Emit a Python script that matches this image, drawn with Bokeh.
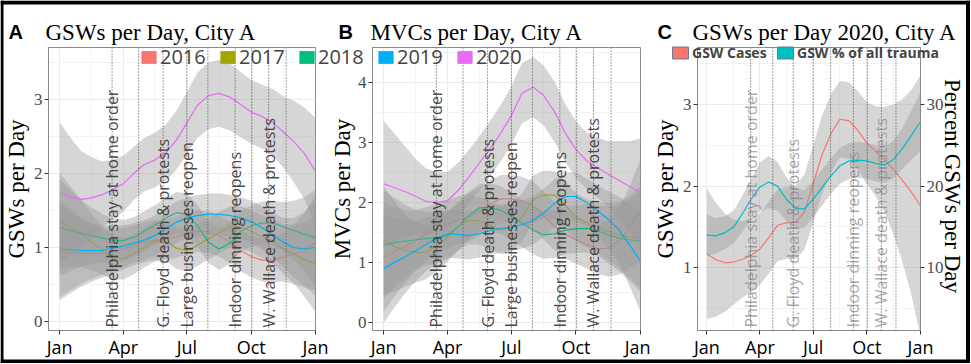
import math
from bokeh.plotting import figure
from bokeh.models import Range1d, LinearAxis, FixedTicker, Span, Label, Legend, LegendItem
from bokeh.layouts import row, column
from bokeh.core.properties import value
from bokeh.embed import file_html
from bokeh.resources import INLINE

# ---------------- data ----------------
days = [0, 15, 31, 46, 60, 75, 91, 106, 121, 136, 152, 167, 182, 197, 213, 228,
        244, 259, 274, 289, 305, 320, 335, 350, 366]

month_ticks = [0, 91, 182, 274, 366]
month_labels = ["Jan", "Apr", "Jul", "Oct", "Jan"]
month_minor = [45, 136, 228, 320]

years = ["2016", "2017", "2018", "2019", "2020"]
year_colors = ["#F8766D", "#A3A500", "#00BF7D", "#00B0F6", "#E76BF3"]

# Panel A: GSWs per day
gsw_2016 = [0.94, 0.93, 0.92, 0.92, 0.92, 0.94, 0.98, 1.03, 1.07, 1.10, 1.11, 1.14, 1.19, 1.22, 1.21, 1.16, 1.07, 0.96, 0.88, 0.83, 0.83, 0.87, 0.91, 0.96, 1.07]
gsw_2017 = [1.36, 1.28, 1.19, 1.07, 0.97, 0.87, 0.85, 0.91, 1.00, 1.08, 1.09, 0.99, 0.96, 1.03, 1.12, 1.20, 1.28, 1.28, 1.22, 1.15, 1.08, 0.98, 0.91, 0.84, 0.78]
gsw_2018 = [1.27, 1.23, 1.19, 1.16, 1.13, 1.10, 1.09, 1.14, 1.22, 1.30, 1.40, 1.47, 1.45, 1.30, 1.07, 0.98, 1.06, 1.22, 1.29, 1.33, 1.33, 1.28, 1.23, 1.18, 1.13]
gsw_2019 = [0.98, 0.97, 0.96, 0.96, 0.96, 0.99, 1.02, 1.06, 1.10, 1.16, 1.26, 1.34, 1.40, 1.43, 1.45, 1.45, 1.43, 1.40, 1.35, 1.27, 1.17, 1.07, 1.00, 0.98, 1.00]
gsw_2020 = [1.74, 1.69, 1.65, 1.67, 1.71, 1.78, 1.86, 2.00, 2.12, 2.18, 2.28, 2.45, 2.68, 2.92, 3.05, 3.08, 3.03, 2.93, 2.83, 2.77, 2.69, 2.56, 2.43, 2.27, 2.03]
gsw_ci_prior = [0.65, 0.55, 0.45, 0.38, 0.33, 0.30, 0.28, 0.27, 0.27, 0.27, 0.27, 0.28, 0.28, 0.28, 0.28, 0.28, 0.28, 0.28, 0.28, 0.29, 0.30, 0.33, 0.40, 0.50, 0.65]
gsw_ci_2020 = [0.95, 0.80, 0.65, 0.55, 0.45, 0.40, 0.38, 0.36, 0.36, 0.37, 0.38, 0.40, 0.42, 0.44, 0.45, 0.45, 0.45, 0.44, 0.43, 0.43, 0.45, 0.48, 0.55, 0.62, 0.72]

# Panel B: MVCs per day
mvc_2016 = [1.09, 1.18, 1.27, 1.37, 1.47, 1.56, 1.64, 1.70, 1.75, 1.85, 1.98, 2.06, 2.06, 2.03, 1.95, 1.78, 1.60, 1.47, 1.38, 1.30, 1.23, 1.24, 1.35, 1.58, 1.87]
mvc_2017 = [1.37, 1.27, 1.20, 1.17, 1.17, 1.27, 1.42, 1.60, 1.70, 1.70, 1.62, 1.54, 1.58, 1.75, 2.05, 2.13, 2.12, 1.95, 1.76, 1.66, 1.58, 1.52, 1.46, 1.43, 1.42]
mvc_2018 = [1.30, 1.33, 1.36, 1.38, 1.40, 1.42, 1.45, 1.60, 1.78, 1.91, 1.92, 1.87, 1.77, 1.66, 1.54, 1.46, 1.48, 1.54, 1.56, 1.57, 1.53, 1.46, 1.41, 1.38, 1.36]
mvc_2019 = [0.90, 1.00, 1.10, 1.20, 1.30, 1.40, 1.48, 1.47, 1.45, 1.48, 1.53, 1.57, 1.59, 1.63, 1.70, 1.83, 1.99, 2.10, 2.10, 2.00, 1.86, 1.72, 1.55, 1.30, 1.03]
mvc_2020 = [2.31, 2.25, 2.18, 2.10, 2.02, 2.00, 2.03, 2.20, 2.42, 2.65, 2.90, 3.16, 3.45, 3.82, 3.92, 3.78, 3.50, 3.15, 2.88, 2.70, 2.58, 2.47, 2.37, 2.27, 2.17]
mvc_ci_prior = [0.90, 0.75, 0.60, 0.50, 0.45, 0.42, 0.40, 0.40, 0.40, 0.40, 0.40, 0.40, 0.40, 0.40, 0.40, 0.40, 0.40, 0.40, 0.40, 0.40, 0.42, 0.47, 0.55, 0.68, 0.85]
mvc_ci_2020 = [1.05, 0.90, 0.75, 0.62, 0.55, 0.50, 0.48, 0.46, 0.45, 0.45, 0.46, 0.47, 0.48, 0.50, 0.50, 0.50, 0.50, 0.48, 0.47, 0.47, 0.50, 0.55, 0.65, 0.75, 0.90]

# Panel C: GSWs 2020 (cases, left axis) and GSW % of all trauma (right axis)
c_cases = [1.17, 1.10, 1.06, 1.07, 1.10, 1.15, 1.23, 1.37, 1.52, 1.55, 1.56, 1.68, 2.02, 2.38, 2.65, 2.82, 2.80, 2.68, 2.53, 2.43, 2.32, 2.20, 2.07, 1.93, 1.76]
c_cases_ci = [0.80, 0.70, 0.60, 0.52, 0.47, 0.45, 0.44, 0.44, 0.44, 0.44, 0.45, 0.46, 0.47, 0.48, 0.48, 0.47, 0.47, 0.48, 0.50, 0.55, 0.65, 0.80, 1.00, 1.25, 1.60]
c_pct = [14.0, 13.9, 14.3, 15.0, 16.5, 18.3, 19.9, 20.5, 20.0, 18.4, 17.3, 17.2, 18.4, 19.8, 21.3, 22.5, 23.1, 23.2, 23.1, 22.8, 22.6, 23.3, 24.6, 26.2, 27.9]
c_pct_ci = [2.5, 2.2, 2.0, 2.0, 2.2, 2.5, 3.0, 3.2, 3.0, 2.7, 2.5, 2.3, 2.2, 2.2, 2.2, 2.2, 2.2, 2.2, 2.2, 2.2, 2.2, 2.3, 2.5, 3.0, 3.6]
c_names = ["GSW Cases", "GSW % of all trauma"]
c_colors = ["#F8766D", "#00BFC4"]

event_days = [75, 148, 182, 251, 299]
event_labels = ["Philadelphia stay at home order", "G. Floyd death & protests",
                "Large businesses reopen", "Indoor dinning reopens",
                "W. Wallace death & protests"]
other_days = [113, 212, 275, 324]

# ---------------- layout constants ----------------
W = 970
H = 363
TOP = 47
BOTTOM = 33
FH = H - TOP - BOTTOM
NAN = float("nan")


def base_fig(width, yr, left, right, yticks, yminor):
    p = figure(width=width, height=H, x_range=Range1d(-16, 366), y_range=Range1d(*yr),
               output_backend="svg", toolbar_location=None,
               min_border_left=left, min_border_right=right,
               min_border_top=TOP, min_border_bottom=BOTTOM)
    p.xaxis.ticker = FixedTicker(ticks=month_ticks, minor_ticks=month_minor)
    p.xaxis.major_label_overrides = {t: l for t, l in zip(month_ticks, month_labels)}
    p.yaxis.ticker = FixedTicker(ticks=yticks, minor_ticks=yminor)
    p.xaxis.major_label_text_font = "Open Sans"
    p.xaxis.major_label_text_font_size = "18px"
    p.xaxis.major_label_text_color = "black"
    p.xaxis.major_label_standoff = 0
    p.yaxis.major_label_text_font = "Liberation Serif"
    p.yaxis.major_label_text_font_size = "17px"
    p.yaxis.major_label_text_color = "#4D4D4D"
    p.yaxis.major_label_standoff = 2
    p.axis.major_tick_out = 4
    p.axis.major_tick_in = 0
    p.axis.minor_tick_line_color = None
    p.axis.axis_line_color = "#8A8A8A"
    p.axis.major_tick_line_color = "#333333"
    p.outline_line_color = "#8A8A8A"
    p.grid.grid_line_color = "#EBEBEB"
    p.grid.minor_grid_line_color = "#F4F4F4"
    p.background_fill_color = "white"
    return p


def add_smooth(p, vals, ci, color, range_name="default"):
    lo = [v - c for v, c in zip(vals, ci)]
    hi = [v + c for v, c in zip(vals, ci)]
    p.varea(x=days, y1=lo, y2=hi, fill_color="#999999", fill_alpha=0.4,
            y_range_name=range_name)
    p.line(days, vals, line_color=color, line_width=1.2, y_range_name=range_name)


def add_events(p, idx, color, alpha):
    for d in event_days + other_days:
        p.add_layout(Span(location=d, dimension="height", line_color="#444444",
                          line_dash="1 2", line_width=1))
    ys = p.y_range.start + 3 * (p.y_range.end - p.y_range.start) / FH
    p.text(x=[event_days[i] for i in idx], y=[ys] * len(idx),
           text=[event_labels[i] for i in idx], angle=math.pi / 2,
           text_align="left", text_baseline="middle", text_font=value("Open Sans"),
           text_font_size="16px", text_color=color, text_alpha=alpha)


# ---------------- Panel A ----------------
pA = base_fig(333, (-0.12, 3.70), 48, 18, [0, 1, 2, 3], [0.5, 1.5, 2.5, 3.5])
for vals, col in zip([gsw_2016, gsw_2017, gsw_2018, gsw_2019], year_colors[:4]):
    add_smooth(pA, vals, gsw_ci_prior, col)
add_smooth(pA, gsw_2020, gsw_ci_2020, year_colors[4])
add_events(pA, [0, 1, 2, 3, 4], "#333333", 0.9)

# ---------------- Panel B ----------------
pB = base_fig(317, (-0.13, 4.58), 39, 10, [0, 1, 2, 3, 4], [0.5, 1.5, 2.5, 3.5, 4.5])
for vals, col in zip([mvc_2016, mvc_2017, mvc_2018, mvc_2019], year_colors[:4]):
    add_smooth(pB, vals, mvc_ci_prior, col)
add_smooth(pB, mvc_2020, mvc_ci_2020, year_colors[4])
add_events(pB, [0, 1, 2, 3, 4], "#333333", 0.9)

# ---------------- Panel C ----------------
pC = base_fig(320, (0.23, 3.70), 47, 50, [1, 2, 3], [0.5, 1.5, 2.5, 3.5])
pC.extra_y_ranges = {"pct": Range1d(2.3, 37.0)}
rax = LinearAxis(y_range_name="pct", ticker=FixedTicker(ticks=[10, 20, 30]))
rax.major_label_text_font = "Liberation Serif"
rax.major_label_text_font_size = "17px"
rax.major_label_text_color = "#4D4D4D"
rax.major_label_standoff = 2
rax.major_tick_out = 4
rax.major_tick_in = 0
rax.minor_tick_line_color = None
rax.axis_line_color = "#8A8A8A"
rax.major_tick_line_color = "#333333"
pC.add_layout(rax, "right")
add_smooth(pC, c_cases, c_cases_ci, c_colors[0])
add_smooth(pC, c_pct, c_pct_ci, c_colors[1], range_name="pct")
add_events(pC, [0, 1, 3, 4], "#8C8C8C", 0.75)

# ---------------- overlay: titles, axis titles, legends ----------------
ov = figure(width=W, height=H, x_range=Range1d(0, W), y_range=Range1d(H, 0),
            x_axis_type=None, y_axis_type=None, output_backend="svg",
            toolbar_location=None, min_border=0, min_border_left=0,
            min_border_right=0, min_border_top=0, min_border_bottom=0)
ov.outline_line_color = None
ov.background_fill_alpha = 0
ov.border_fill_alpha = 0
ov.margin = (-H, 0, 0, 0)


def lab(text, x, y, font, size, style="normal", angle=0.0, align="left",
        baseline="alphabetic"):
    ov.add_layout(Label(x=x, y=y, text=text, text_font=font, text_font_size=size,
                        text_font_style=style, angle=angle, text_align=align,
                        text_baseline=baseline, text_color="black"))


# picture frame
ov.add_layout(Span(location=2, dimension="width", line_color="black", line_width=4))
ov.add_layout(Span(location=H - 2, dimension="width", line_color="black", line_width=4))
ov.add_layout(Span(location=1.5, dimension="height", line_color="black", line_width=3))
ov.add_layout(Span(location=W - 2.5, dimension="height", line_color="black", line_width=4))

for letter, lx, title, tx in [("A", 8, "GSWs per Day, City A", 45),
                              ("B", 338, "MVCs per Day, City A", 370),
                              ("C", 657, "GSWs per Day 2020, City A", 692)]:
    lab(letter, lx, 31, "Liberation Sans", "20px", style="bold")
    lab(title, tx, 32, "Liberation Serif", "23px")

ymid = TOP + FH / 2
lab("GSWs per Day", 16, ymid, "Liberation Serif", "23px", angle=math.pi / 2,
    align="center", baseline="middle")
lab("MVCs per Day", 342, ymid, "Liberation Serif", "23px", angle=math.pi / 2,
    align="center", baseline="middle")
lab("GSWs per Day", 665, ymid, "Liberation Serif", "23px", angle=math.pi / 2,
    align="center", baseline="middle")
lab("Percent GSWs per Day", 952, ymid - 3, "Liberation Serif", "23px",
    angle=-math.pi / 2, align="center", baseline="middle")

yr_sw = [ov.quad(left=[NAN], right=[NAN], top=[NAN], bottom=[NAN], fill_color=c,
                 line_color=None) for c in year_colors]
ov.add_layout(Legend(items=[LegendItem(label=y, renderers=[r]) for y, r in zip(years, yr_sw)],
                     location=(139, H - 70), orientation="horizontal",
                     glyph_width=19, glyph_height=16, label_standoff=2, label_width=58,
                     label_height=16, spacing=0, padding=0, margin=0,
                     border_line_color=None, background_fill_alpha=0,
                     label_text_font="Open Sans", label_text_font_size="20px"))

c_sw = [ov.quad(left=[NAN], right=[NAN], top=[NAN], bottom=[NAN], fill_color=c,
                line_color="#6A7B9A", line_width=1) for c in c_colors]
ov.add_layout(Legend(items=[LegendItem(label=n, renderers=[r]) for n, r in zip(c_names, c_sw)],
                     location=(670, H - 62), orientation="horizontal",
                     glyph_width=20, glyph_height=15, label_standoff=2, label_width=83,
                     label_height=15, spacing=0, padding=0, margin=0,
                     border_line_color=None, background_fill_alpha=0,
                     label_text_font="Open Sans", label_text_font_size="14px",
                     label_text_font_style="bold"))

layout = column(row(pA, pB, pC), ov)
open("out.html", "w").write(file_html(layout, INLINE, title="GSWs and MVCs per Day"))
